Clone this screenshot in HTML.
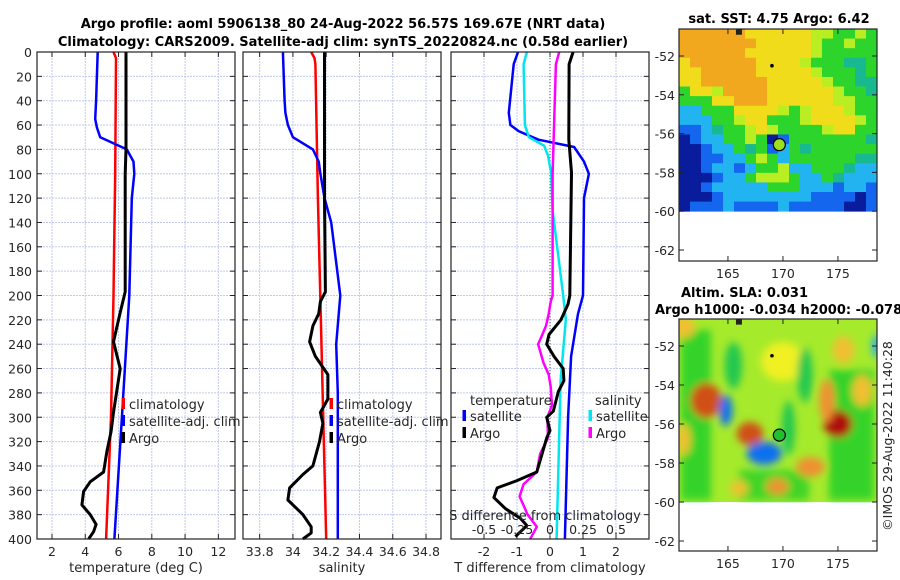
<!DOCTYPE html>
<html><head><meta charset="utf-8"><style>
html,body{margin:0;padding:0;background:#fff;}
svg{display:block;font-family:"DejaVu Sans","Liberation Sans",sans-serif;}
</style></head><body>
<svg id="root" width="900" height="580" viewBox="0 0 900 580" xmlns="http://www.w3.org/2000/svg">
<defs>
<filter id="blur" x="-50%" y="-50%" width="200%" height="200%"><feGaussianBlur stdDeviation="4"/></filter>
<clipPath id="slaClip"><rect x="679" y="319" width="198" height="184"/></clipPath>
</defs>
<text x="343" y="28" text-anchor="middle" font-size="13" font-weight="bold" fill="#000">Argo profile: aoml 5906138_80 24-Aug-2022 56.57S 169.67E (NRT data)</text>
<text x="343" y="46" text-anchor="middle" font-size="13" font-weight="bold" fill="#000">Climatology: CARS2009. Satellite-adj clim: synTS_20220824.nc (0.58d earlier)</text>
</svg>
<script>
// ---------- DATA ----------
const tDepth_argo=[0,80,100,197,214,238,260,296,312,328,345,353,361,372,380,388,394,400];
const tVal_argo=[6.45,6.45,6.4,6.4,6.1,5.7,6.1,5.7,5.55,5.3,5.1,4.3,3.9,3.8,4.3,4.65,4.5,4.2];
const tDepth_clim=[0,5,100,200,300,400];
const tVal_clim=[5.7,5.85,5.8,5.7,5.55,5.25];
const tDepth_sat=[0,40,55,62,70,80,90,100,120,200,300,400];
const tVal_sat=[4.75,4.65,4.6,4.7,4.9,6.5,6.9,6.95,6.8,6.65,6.2,5.75];

const sDepth_argo=[0,120,197,205,215,225,238,250,265,285,296,305,320,340,347,358,368,380,390,395,400];
const sVal_argo=[34.19,34.19,34.195,34.165,34.155,34.12,34.10,34.135,34.21,34.21,34.165,34.18,34.16,34.12,34.06,33.98,33.97,34.06,34.11,34.11,34.06];
const sDepth_clim=[0,5,10,120,400];
const sVal_clim=[34.11,34.13,34.135,34.15,34.20];
const sDepth_sat=[0,40,50,60,70,80,90,100,120,140,200,240,280,400];
const sVal_sat=[33.94,33.95,33.955,33.97,34.0,34.12,34.155,34.165,34.19,34.23,34.285,34.26,34.27,34.27];

const dtDepth_argo=[0,10,72,99,200,207,220,232,240,250,260,270,279,295,300,311,317,345,352,358,366,375,383,389,398];
const dtVal_argo=[0.7,0.58,0.57,0.65,0.6,0.55,0.33,-0.03,-0.1,0.12,0.4,0.42,0.25,0.1,-0.1,0.0,-0.1,-0.4,-1.0,-1.6,-1.7,-1.35,-0.9,-0.7,-1.05];
const dtDepth_sat=[0,10,50,60,65,72,78,90,100,120,200,215,250,300,400];
const dtVal_sat=[-0.97,-1.1,-1.25,-1.2,-0.95,-0.35,0.73,1.03,1.18,1.03,1.0,0.85,0.64,0.55,0.45];
const dsDepth_argo=[0,10,100,200,205,215,225,235,240,255,265,275,290,300,317,330,345,355,365,380,390,400];
const dsVal_argo=[0.07,0.045,0.02,0.02,0.005,-0.01,-0.03,-0.07,-0.09,-0.05,-0.01,0.005,0.015,-0.02,-0.015,-0.075,-0.1,-0.2,-0.23,-0.17,-0.1,-0.15];
const dsDepth_sat=[0,10,60,70,77,85,100,130,200,220,270,400];
const dsVal_sat=[-0.175,-0.2,-0.19,-0.16,-0.045,-0.015,0.01,0.02,0.1,0.12,0.08,0.05];

const depthTicks=[0,20,40,60,80,100,120,140,160,180,200,220,240,260,280,300,320,340,360,380,400];
const tempTicks=[2,4,6,8,10,12];
const salTicks=[33.8,34,34.2,34.4,34.6,34.8];
const salTickLabels=["33.8","34","34.2","34.4","34.6","34.8"];
const dtTicks=[-2,-1,0,1,2];
const dsTicks=[-0.5,-0.25,0,0.25,0.5];
const dsTickLabels=["-0.5","-0.25","0","0.25","0.5"];

// SST map: rows from north to south, 1 deg lon columns, codes -> colours
const sstRows=[
"OOOOOOYYYYYYLLGGLG","OOOOOOOYYYYYLGGLGG","OOOOOOYYYYYYLGGGGG","YOOOOOOYYYYLGGGTTG",
"YYOOOOOYYYYYLGGGTG","YYOOOOOOYYYYYLGGTT","GYYLOOOOYYYYYYLGGT","GGGYYOOOYYYYYYLLGG",
"CCGGGYYYYLGLYYYLGG","CCCGGLYYGGGLYYYYLG","BBCTGGLYLGGGGLYYGG","NBCCGGLGNBGGGGGGGT",
"NNBCCGTGBCGTGGGGGG","NNBBCCGLGCGGGGGGTT","NNBCCBCGGLCCGGGTCC","NNNBCCGLLLGCCGTCCC",
"NNBCCCCCGGGCCCBCCB","NNNBCCCCCCCCBBBBNB","NBBBCBBBBCBBBBBNNB"];
const sstCodes=["O","Y","L","G","T","C","B","N"];
const sstColors=["#f2a81e","#f0dc1a","#b8ee22","#2cd42c","#18b890","#22b4f0","#1466ee","#081c9c"];

// SLA anomaly blobs
const slaLon=[163,164.8,167,168.3,175,174,172.5,170,175.5,177.2,178.5,161,169.5,166,161,170.5,165.5,172];
const slaLat=[-54.8,-55.3,-56.5,-57.5,-56,-54.8,-58.2,-52.8,-52.2,-54.3,-52,-56.8,-59.2,-59.3,-51,-56.2,-53,-53.5];
const slaVal=[0.9,-0.8,0.8,-0.7,1.0,0.75,0.7,0.4,0.5,0.5,-0.6,0.5,0.6,0.55,0.45,-0.1,-0.1,-0.1];
const slaRx=[1.4,0.6,1.2,1.6,1.3,0.7,1.3,2.0,1.0,0.9,0.4,0.6,1.0,0.8,1.0,0.6,0.8,0.7];
const slaRy=[0.9,0.8,0.6,0.6,0.7,1.1,0.5,1.0,0.7,0.8,0.6,0.8,0.4,0.4,0.6,1.4,1.2,1.4];

const mapLonTicks=[165,170,175];
const mapLatTicks=[-52,-54,-56,-58,-60,-62];
const argoLon=169.67, argoLat=-56.57;

// ---------- HELPERS ----------
const NS='http://www.w3.org/2000/svg';
const root=document.getElementById('root');
function mk(tag,attrs,parent){const e=document.createElementNS(NS,tag);for(const k in attrs)e.setAttribute(k,attrs[k]);(parent||root).appendChild(e);return e;}
function txt(x,y,s,size,anchor,parent){const t=mk('text',{x:x,y:y,'font-size':size,'text-anchor':anchor||'middle',fill:'#262626'},parent);t.textContent=s;return t;}

const PY0=52, PY1=539;
function yScale(d){return PY0+(d/400)*(PY1-PY0);}
function makeX(x0,x1,vmin,vmax){return v=>x0+(v-vmin)/(vmax-vmin)*(x1-x0);}

function drawPanel(name,x0,x1,xs,ticks,labels,showY){
  const g=mk('g',{});
  
  
  mk('rect',{x:x0,y:PY0,width:x1-x0,height:PY1-PY0,fill:'#fff'},g);
  depthTicks.forEach(d=>{const y=yScale(d);
    const l=mk('line',{x1:x0,x2:x1,y1:y,y2:y,stroke:'#c0c8ec','stroke-width':1,'stroke-dasharray':'2,1'},g);
    
    
    mk('line',{x1:x0,x2:x0+5,y1:y,y2:y,stroke:'#222'},g);
    mk('line',{x1:x1-5,x2:x1,y1:y,y2:y,stroke:'#222'},g);
    if(showY){const t=txt(x0-5,y+5,String(d),12.5,'end',g);
      
      }
  });
  ticks.forEach((v,i)=>{const x=xs(v);
    const l=mk('line',{x1:x,x2:x,y1:PY0,y2:PY1,stroke:'#c0c8ec','stroke-width':1,'stroke-dasharray':'2,1'},g);
    
    
    mk('line',{x1:x,x2:x,y1:PY1,y2:PY1-5,stroke:'#222'},g);
    mk('line',{x1:x,x2:x,y1:PY0,y2:PY0+5,stroke:'#222'},g);
    if(labels){const t=txt(x,PY1+17,labels[i],12.5,'middle',g);
      
      }
  });
  return g;
}
function drawLine(g,name,depths,vals,xs,color,w){
  const pts=depths.map((d,i)=>xs(vals[i]).toFixed(1)+','+yScale(d).toFixed(1)).join(' ');
  const p=mk('polyline',{points:pts,fill:'none',stroke:color,'stroke-width':w,'stroke-linejoin':'round'},g);
  
  
  return p;
}
function frame(g,x0,x1){mk('rect',{x:x0,y:PY0,width:x1-x0,height:PY1-PY0,fill:'none',stroke:'#222','stroke-width':1.2},g);}
function legendEntry(g,x,y,color,label){
  mk('rect',{x:x-1.5,y:y-12,width:3.5,height:11,fill:color},g);
  const t=txt(x+6,y-1,label,13,'start',g);
  
  
}

// ---------- PANEL 1: temperature ----------
const xT=makeX(37,235,1.1,13.0);
const g1=drawPanel('temperature-panel',37,235,xT,tempTicks,tempTicks.map(String),true);
drawLine(g1,'temp-climatology-line',tDepth_clim,tVal_clim,xT,'#ff0000',2.5);
drawLine(g1,'temp-satellite-line',tDepth_sat,tVal_sat,xT,'#0000ff',2.5);
drawLine(g1,'temp-argo-line',tDepth_argo,tVal_argo,xT,'#000000',3);
frame(g1,37,235);
legendEntry(g1,123,410,'#ff0000','climatology');
legendEntry(g1,123,427,'#0000ff','satellite-adj. clim');
legendEntry(g1,123,444,'#000000','Argo');
const xl1=txt(136,572,'temperature (deg C)',13,'middle');



// ---------- PANEL 2: salinity ----------
const xS=makeX(243,441,33.70,34.89);
const g2=drawPanel('salinity-panel',243,441,xS,salTicks,salTickLabels,false);
drawLine(g2,'sal-climatology-line',sDepth_clim,sVal_clim,xS,'#ff0000',2.5);
drawLine(g2,'sal-satellite-line',sDepth_sat,sVal_sat,xS,'#0000ff',2.5);
drawLine(g2,'sal-argo-line',sDepth_argo,sVal_argo,xS,'#000000',3);
frame(g2,243,441);
legendEntry(g2,331,410,'#ff0000','climatology');
legendEntry(g2,331,427,'#0000ff','satellite-adj. clim');
legendEntry(g2,331,444,'#000000','Argo');
const xl2=txt(342,572,'salinity',13,'middle');



// ---------- PANEL 3: differences ----------
const xD=makeX(451,649,-3,3);
const xDS=v=>xD(v*4);
const g3=drawPanel('difference-panel',451,649,xD,dtTicks,dtTicks.map(String),false);
const zl=mk('line',{x1:xD(0),x2:xD(0),y1:PY0,y2:PY1,stroke:'#555','stroke-width':1,'stroke-dasharray':'1,2'},g3);


drawLine(g3,'temp-diff-satellite-line',dtDepth_sat,dtVal_sat,xD,'#0000ff',2.5);
drawLine(g3,'sal-diff-satellite-line',dsDepth_sat,dsVal_sat,xDS,'#00e5ee',2.5);
drawLine(g3,'sal-diff-argo-line',dsDepth_argo,dsVal_argo,xDS,'#ff00ff',2.5);
drawLine(g3,'temp-diff-argo-line',dtDepth_argo,dtVal_argo,xD,'#000000',3);
frame(g3,451,649);
let t3=txt(470,405,'temperature',13,'start',g3);


t3=txt(595,405,'salinity',13,'start',g3);


legendEntry(g3,464,422,'#0000ff','satellite');
legendEntry(g3,464,439,'#000000','Argo');
legendEntry(g3,590,422,'#00e5ee','satellite');
legendEntry(g3,590,439,'#ff00ff','Argo');
t3=txt(545,520,'S difference from climatology',13,'middle',g3);


dsTicks.forEach((v,i)=>{const t=txt(xDS(v),534,dsTickLabels[i],12.5,'middle',g3);
  
  });
const xl3=txt(550,572,'T difference from climatology',13,'middle');



// ---------- MAPS ----------
const MX0=679, MX1=877;
const lonX=lon=>MX0+(lon-160.55)*11;
function drawMapAxes(g,top,bottom,latY){
  mk('rect',{x:MX0,y:top,width:MX1-MX0,height:bottom-top,fill:'none',stroke:'#222','stroke-width':1.2},g);
  mapLonTicks.forEach(v=>{const x=lonX(v);
    mk('line',{x1:x,x2:x,y1:bottom,y2:bottom-5,stroke:'#222'},g);
    mk('line',{x1:x,x2:x,y1:top,y2:top+5,stroke:'#222'},g);
    const t=txt(x,bottom+17,String(v),12.5,'middle',g);
    
    });
  mapLatTicks.forEach(v=>{const y=latY(v);
    mk('line',{x1:MX0,x2:MX0+5,y1:y,y2:y,stroke:'#222'},g);
    mk('line',{x1:MX1-5,x2:MX1,y1:y,y2:y,stroke:'#222'},g);
    const t=txt(MX0-4,y+5,String(v),12.5,'end',g);
    
    });
}
function marks(g,latY,fill){
  mk('rect',{x:lonX(166)-3,y:latY(-50.75)-3,width:6,height:6,fill:'#222'},g);
  mk('circle',{cx:lonX(169),cy:latY(-52.5),r:1.8,fill:'#000'},g);
  const c=mk('circle',{cx:lonX(argoLon),cy:latY(argoLat),r:6,fill:fill,stroke:'#000','stroke-width':1.2},g);
  
  
}

// SST map
const latY1=lat=>56+(-52-lat)*19.4;
const gm1=mk('g',{});


const top1=29, dataBot1=latY1(-60);
const rh=(dataBot1-top1)/sstRows.length, cw=(MX1-MX0)/18;
sstRows.forEach((row,r)=>{for(let c=0;c<row.length;c++){
  const col=sstColors[sstCodes.indexOf(row[c])];
  mk('rect',{x:(MX0+c*cw).toFixed(2),y:(top1+r*rh).toFixed(2),width:(cw+0.4).toFixed(2),height:(rh+0.4).toFixed(2),fill:col},gm1);}});
marks(gm1,latY1,'#9be01e');
drawMapAxes(gm1,29,261,latY1);
let mt=txt(779,23,'sat. SST: 4.75 Argo: 6.42',13,'middle');
mt.setAttribute('font-weight','bold');mt.setAttribute('fill','#000');



// SLA map
const latY2=lat=>346+(-52-lat)*19.5;
const gm2=mk('g',{});


const slaG=mk('g',{'clip-path':'url(#slaClip)'},gm2);
mk('rect',{x:MX0,y:319,width:MX1-MX0,height:latY2(-60)-319,fill:'#a6ea2c'},slaG);
const bl=mk('g',{filter:'url(#blur)'},slaG);
mk('rect',{x:MX0+2,y:330,width:30,height:170,fill:'#28d028',opacity:0.9},bl);
mk('rect',{x:MX0+150,y:370,width:45,height:130,fill:'#28d028',opacity:0.9},bl);
mk('rect',{x:MX0+60,y:470,width:70,height:30,fill:'#28d028',opacity:0.8},bl);
function slaColor(v){
  if(v<=-0.7)return '#1070f0';
  if(v<=-0.4)return '#20b0f0';
  if(v<0)return '#20c850';
  if(v<0.45)return '#f0f020';
  if(v<0.6)return '#f0c030';
  if(v<0.8)return '#f09030';
  if(v<0.95)return '#d05018';
  return '#b01010';
}
slaLon.forEach((lon,i)=>{
  const e=mk('ellipse',{cx:lonX(lon),cy:latY2(slaLat[i]),rx:slaRx[i]*11,ry:slaRy[i]*19.5,fill:slaColor(slaVal[i])},bl);
  
  
});
marks(gm2,latY2,'#22c030');
drawMapAxes(gm2,319,551,latY2);
mt=txt(681,297,'Altim. SLA: 0.031',13,'start');
mt.setAttribute('font-weight','bold');mt.setAttribute('fill','#000');


mt=txt(655,314,'Argo h1000: -0.034 h2000: -0.078',13,'start');
mt.setAttribute('font-weight','bold');mt.setAttribute('fill','#000');


mt=txt(0,0,'©IMOS 29-Aug-2022 11:40:28',12.5,'middle');
mt.setAttribute('transform','translate(892,436) rotate(-90)');


</script>
</body></html>
